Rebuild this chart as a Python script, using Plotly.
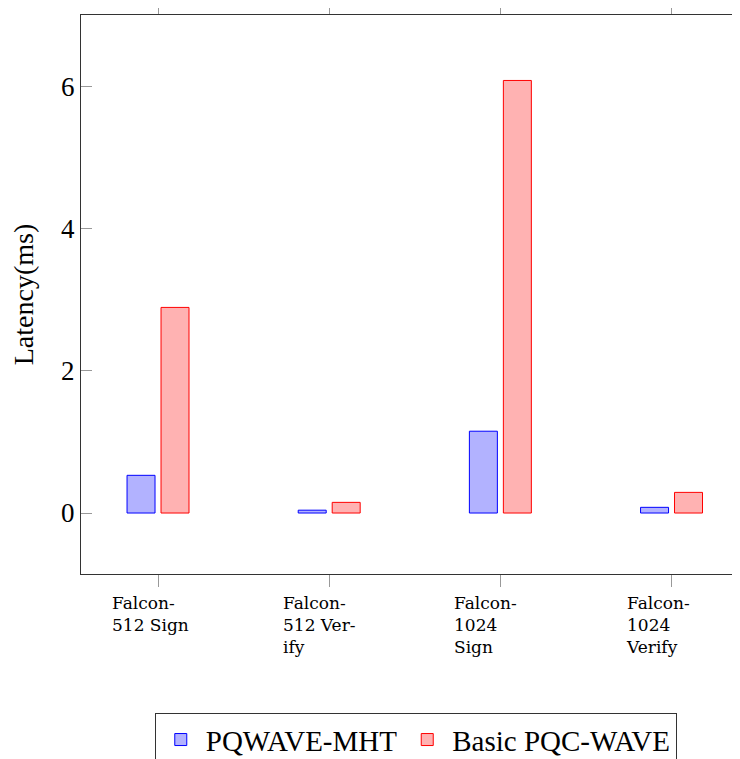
import plotly.graph_objects as go

categories = ["Falcon-512 Sign", "Falcon-512 Verify", "Falcon-1024 Sign", "Falcon-1024 Verify"]
tick_labels = ["Falcon-<br>512 Sign", "Falcon-<br>512 Ver-<br>ify", "Falcon-<br>1024<br>Sign", "Falcon-<br>1024<br>Verify"]
pqwave_mht = [0.53, 0.04, 1.15, 0.08]
basic_pqc_wave = [2.89, 0.15, 6.08, 0.29]
y_ticks = [0, 2, 4, 6]

FONT = "Liberation Serif"
FONT2 = "DejaVu Serif"
positions = list(range(len(categories)))

fig = go.Figure()
fig.add_trace(go.Bar(
    x=positions, y=pqwave_mht, name="PQWAVE-MHT",
    width=0.1635, offset=-0.181,
    marker=dict(color="rgb(178,178,255)", line=dict(color="rgb(0,0,255)", width=1)),
))
fig.add_trace(go.Bar(
    x=positions, y=basic_pqc_wave, name="Basic PQC-WAVE",
    width=0.1635, offset=0.0175,
    marker=dict(color="rgb(255,178,178)", line=dict(color="rgb(255,0,0)", width=1)),
))

for i, lab in zip(positions, tick_labels):
    fig.add_annotation(
        x=i, xref="x", y=-0.03, yref="paper", yanchor="top", xanchor="center",
        text=lab, showarrow=False, align="left", width=92,
        font=dict(family=FONT2, size=17, color="black"),
    )

fig.update_layout(
    width=732, height=751,
    margin=dict(l=73, r=0, t=7, b=185, autoexpand=False),
    plot_bgcolor="white", paper_bgcolor="white",
    font=dict(family=FONT, color="black"),
    barmode="overlay",
    showlegend=True,
    legend=dict(
        orientation="h", x=0.508, xanchor="center", y=-0.249, yanchor="top",
        xref="paper", yref="paper",
        bordercolor="#333333", borderwidth=1,
        font=dict(family=FONT, size=29, color="black"),
        itemwidth=40, tracegroupgap=0,
    ),
    xaxis=dict(
        range=[-0.45, 3.4], tickmode="array", tickvals=positions,
        showticklabels=False, ticks="outside", ticklen=12, tickcolor="#999999",
        showline=True, linecolor="#333333", linewidth=1, mirror="ticks",
        showgrid=False, zeroline=False, automargin=False,
    ),
    yaxis=dict(
        range=[-0.857, 7.0], tickmode="array", tickvals=y_ticks,
        ticks="inside", ticklen=11, tickcolor="#999999",
        tickfont=dict(family=FONT, size=27, color="black"),
        showline=True, linecolor="#333333", linewidth=1, mirror=False,
        showgrid=False, zeroline=False, automargin=False,
        title=dict(text="Latency(ms)", font=dict(family=FONT, size=28, color="black"), standoff=22),
    ),
)

fig.write_html("out.html")
